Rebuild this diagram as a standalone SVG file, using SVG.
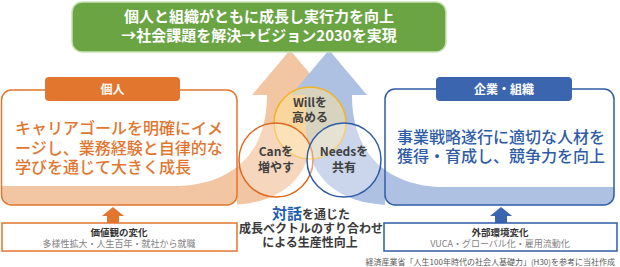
<svg xmlns="http://www.w3.org/2000/svg" width="620" height="267" viewBox="0 0 620 267">
<style>
text{font-family:"Noto Sans CJK JP","Noto Sans",sans-serif}
.w{fill:#fff;font-weight:bold}
.or{fill:#E2762F;font-size:16px;font-weight:500}
.bl{fill:#2F5CA6;font-size:16px;font-weight:500}
.ct{fill:#404040;font-size:12px;font-weight:bold;text-anchor:middle}
.dk{fill:#3a3a3a;font-size:12px;font-weight:bold;text-anchor:middle}
.lb{fill:#333;font-size:9.5px;font-weight:bold;text-anchor:middle}
.lg{fill:#7f7f7f;font-size:9px;font-weight:normal}
</style>
<defs>
<clipPath id="clipO"><rect x="1" y="90" width="236" height="115" rx="10"/><rect x="237" y="0" width="383" height="267"/></clipPath>
<clipPath id="clipB"><rect x="385" y="89" width="229" height="116" rx="10"/><rect x="0" y="0" width="385" height="267"/></clipPath>
</defs>
<rect width="620" height="267" fill="#fff"/>
<g id="connectors">
<path clip-path="url(#clipO)" fill="#F3C6A3" d="M0 186 L180 186 C225 184 267 160 267 95 L252 95 L290 50 L328 95 L313 95 L313 125 C313 175 285 205 225 205 L0 205 Z"/>
<path clip-path="url(#clipB)" fill="#AFC1E2" d="M620 187 L439 187 C394 185 352 160 352 95 L367 95 L329 50 L291 95 L306 95 L306 125 C306 175 334 205 394 205 L620 205 Z"/>
<path fill="#E2762F" d="M113 207 L124 216 L119 216 L119 223 L107 223 L107 216 L102 216 Z"/>
<path fill="#3B66AF" d="M501 207 L512 216 L507 216 L507 223 L495 223 L495 216 L490 216 Z"/>
</g>
<g id="goal">
<rect x="72" y="2" width="374" height="50" rx="10" fill="#6AA443" stroke="#C9E2B8" stroke-width="1.5"/>
<text class="w" font-size="15" text-anchor="middle"><tspan x="259" y="22">個人と組織がともに成長し実行力を向上</tspan><tspan x="259" y="41">→社会課題を解決→ビジョン2030を実現</tspan></text>
</g>
<g id="individual">
<rect x="1.5" y="90" width="235.5" height="115" rx="10" fill="none" stroke="#E2762F" stroke-width="1.5"/>
<rect x="45" y="77" width="135" height="24" rx="4" fill="#E2762F"/>
<text class="w" x="112.5" y="93.5" font-size="12" text-anchor="middle">個人</text>
<text class="or"><tspan x="15" y="134">キャリアゴールを明確にイメ</tspan><tspan x="15" y="154">ージし、業務経験と自律的な</tspan><tspan x="15" y="173">学びを通じて大きく成長</tspan></text>
</g>
<g id="organization">
<rect x="385" y="89" width="229" height="116" rx="10" fill="none" stroke="#2F5CA6" stroke-width="1.5"/>
<rect x="436" y="77" width="136" height="24" rx="4" fill="#3B66AF"/>
<text class="w" x="504" y="93.5" font-size="12" text-anchor="middle">企業・組織</text>
<text class="bl"><tspan x="397" y="143">事業戦略遂行に適切な人材を</tspan><tspan x="397" y="162">獲得・育成し、競争力を向上</tspan></text>
</g>
<g id="will">
<circle cx="310" cy="123" r="36" fill="#FFE699" fill-opacity="0.5" stroke="#F2B325" stroke-width="1.5"/>
<text class="ct"><tspan x="310" y="106.5">Willを</tspan><tspan x="310" y="121.5">高める</tspan></text>
</g>
<g id="can">
<circle cx="276" cy="160" r="37" fill="#fff" fill-opacity="0.3" stroke="#E0691F" stroke-width="1.5"/>
<text class="ct"><tspan x="276" y="155.5">Canを</tspan><tspan x="276" y="171.5">増やす</tspan></text>
</g>
<g id="needs">
<circle cx="344" cy="160" r="37" fill="#fff" fill-opacity="0.35" stroke="#2F5CA6" stroke-width="1.5"/>
<text class="ct"><tspan x="344" y="155.5">Needsを</tspan><tspan x="344" y="171.5">共有</tspan></text>
</g>
<g id="dialog">
<text class="dk"><tspan x="311" y="218.5"><tspan fill="#1F5FAE" font-size="15">対話</tspan>を通じた</tspan><tspan x="311" y="232.5">成長ベクトルのすり合わせ</tspan><tspan x="310" y="246.5">による生産性向上</tspan></text>
</g>
<g id="values">
<rect x="2" y="223" width="235" height="28" fill="#fff" stroke="#E2762F" stroke-width="1.5"/>
<text class="lb"><tspan x="119" y="235.5">価値観の変化</tspan><tspan class="lg" x="119" y="246.5">多様性拡大・人生百年・就社から就職</tspan></text>
</g>
<g id="environment">
<rect x="384" y="223" width="233" height="28" fill="#fff" stroke="#2F5CA6" stroke-width="1.5"/>
<text class="lb"><tspan x="500" y="235.5">外部環境変化</tspan><tspan class="lg" x="500" y="246.5">VUCA・グローバル化・雇用流動化</tspan></text>
</g>
<g id="source">
<text x="615" y="264.5" font-size="8" fill="#595959" text-anchor="end">経済産業省「人生100年時代の社会人基礎力」(H30)を参考に当社作成</text>
</g>
</svg>
